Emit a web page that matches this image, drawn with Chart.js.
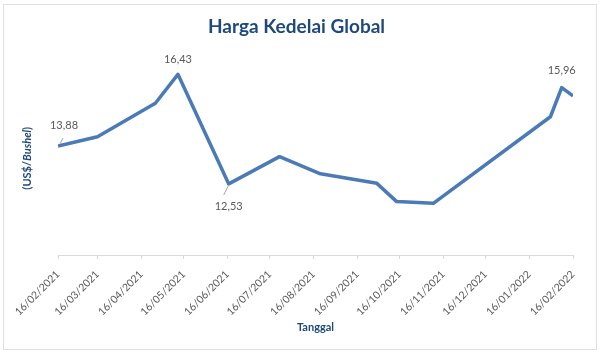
<!DOCTYPE html>
<html>
<head>
<meta charset="utf-8">
<script src="https://cdn.jsdelivr.net/npm/chart.js@4"></script>
<style>
html, body { margin: 0; padding: 0; background: #fff; }
#wrap { position: relative; width: 600px; height: 352px; }
#frame { position: absolute; left: 3px; top: 4px; width: 592px; height: 344px; border: 1px solid #dbe0e6; }
canvas { position: absolute; left: 0; top: 0; }
</style>
</head>
<body>
<div id="wrap">
  <div id="frame"></div>
  <canvas id="priceChart" width="600" height="352"></canvas>
</div>
<script>
// harga kedelai (US$/bushel)
const dates = ["2021-02-16", "2021-03-16", "2021-04-26", "2021-05-12", "2021-06-17", "2021-07-23",
               "2021-08-21", "2021-09-30", "2021-10-14", "2021-11-09", "2022-01-31", "2022-02-08", "2022-02-16"];
const prices = [13.88, 14.21, 15.40, 16.43, 12.53, 13.50, 12.89, 12.55, 11.90, 11.84, 14.92, 15.96, 15.66];
const tickDates = ["2021-02-16", "2021-03-16", "2021-04-16", "2021-05-16", "2021-06-16", "2021-07-16", "2021-08-16",
                   "2021-09-16", "2021-10-16", "2021-11-16", "2021-12-16", "2022-01-16", "2022-02-16"];
const labelledPoints = [0, 3, 4, 11];
const yTitleParts = [["(US$/", "bold"], ["Bushel", "italic bold"], [")", "bold"]];

const base = Date.parse(tickDates[0]);
const toDay = d => (Date.parse(d) - base) / 86400000;
const fmt = d => { const p = d.split("-"); return p[2] + "/" + p[1] + "/" + p[0]; };
const tickDays = tickDates.map(toDay);
const points = dates.map((d, i) => ({ x: toDay(d), y: prices[i] }));

const navy = "#1f497d";
const grey = "#595959";

const valueLabels = {
    id: "valueLabels",
    afterDatasetsDraw(chart, args, opts) {
        const c = chart.ctx;
        const meta = chart.getDatasetMeta(0);
        c.save();
        c.font = "11px Lato";
        c.fillStyle = grey;
        c.textAlign = "center";
        c.textBaseline = "middle";
        labelledPoints.forEach(i => {
            const p = meta.data[i];
            const o = opts.offsets[i];
            if (o.line) {
                c.strokeStyle = "#a6a6a6";
                c.lineWidth = 1;
                c.beginPath();
                c.moveTo(p.x + o.line[0], p.y + o.line[1]);
                c.lineTo(p.x + o.line[2], p.y + o.line[3]);
                c.stroke();
            }
            c.fillText(prices[i].toFixed(2).replace(".", ","), p.x + o.dx, p.y + o.dy);
        });
        c.restore();
    }
};

// judul sumbu y dengan "Bushel" miring
const yTitle = {
    id: "yTitle",
    afterDraw(chart) {
        const c = chart.ctx;
        const s = chart.scales.y;
        const fonts = yTitleParts.map(p => p[1] + " 11px Lato");
        let total = 0;
        const widths = yTitleParts.map((p, i) => { c.font = fonts[i]; const w = c.measureText(p[0]).width; total += w; return w; });
        c.save();
        c.translate(s.left + 7, (s.top + s.bottom) / 2 + 3);
        c.rotate(-Math.PI / 2);
        c.fillStyle = navy;
        c.textBaseline = "middle";
        c.textAlign = "left";
        let x = -total / 2;
        yTitleParts.forEach((p, i) => { c.font = fonts[i]; c.fillText(p[0], x, 0); x += widths[i]; });
        c.restore();
    }
};

new Chart(document.getElementById("priceChart"), {
    type: "line",
    data: {
        datasets: [{
            data: points,
            borderColor: "#4a7bb7",
            borderWidth: 3.5,
            borderJoinStyle: "round",
            pointRadius: 0,
            tension: 0
        }]
    },
    options: {
        responsive: false,
        animation: false,
        devicePixelRatio: 1,
        layout: { padding: { left: 20, right: 27, top: 0, bottom: 18 } },
        plugins: {
            legend: { display: false },
            tooltip: { enabled: false },
            title: {
                display: true,
                text: "Harga Kedelai Global",
                color: navy,
                font: { family: "Lato", size: 19, weight: "bold" },
                padding: { top: 15.6, bottom: 17.1 }
            },
            valueLabels: {
                offsets: {
                    0: { dx: 6, dy: -21, line: [2, -2, 5, -8] },
                    3: { dx: 0, dy: -15 },
                    4: { dx: 0, dy: 23, line: [0, 1, -5, 11] },
                    11: { dx: 0, dy: -17 }
                }
            }
        },
        scales: {
            x: {
                type: "linear",
                min: 0,
                max: tickDays[tickDays.length - 1],
                afterBuildTicks: s => { s.ticks = tickDays.map(v => ({ value: v })); },
                afterFit: s => { s.height = 79; },
                grid: { drawOnChartArea: false, drawTicks: true, tickLength: 4, color: "#d9d9d9" },
                border: { display: true, color: "#d9d9d9" },
                ticks: {
                    autoSkip: false,
                    minRotation: 45,
                    maxRotation: 45,
                    padding: 9,
                    color: grey,
                    font: { family: "Lato", size: 10.5 },
                    callback: v => fmt(tickDates[tickDays.indexOf(v)])
                },
                title: {
                    display: true,
                    text: "Tanggal",
                    color: navy,
                    font: { family: "Lato", size: 11, weight: "bold" },
                    padding: { top: 0, bottom: 0 }
                }
            },
            y: {
                min: 10,
                max: 17.1,
                afterFit: s => { s.width = 38; },
                grid: { display: false },
                border: { display: false },
                ticks: { display: false },
                title: { display: false }
            }
        }
    },
    plugins: [valueLabels, yTitle]
});
</script>
</body>
</html>
